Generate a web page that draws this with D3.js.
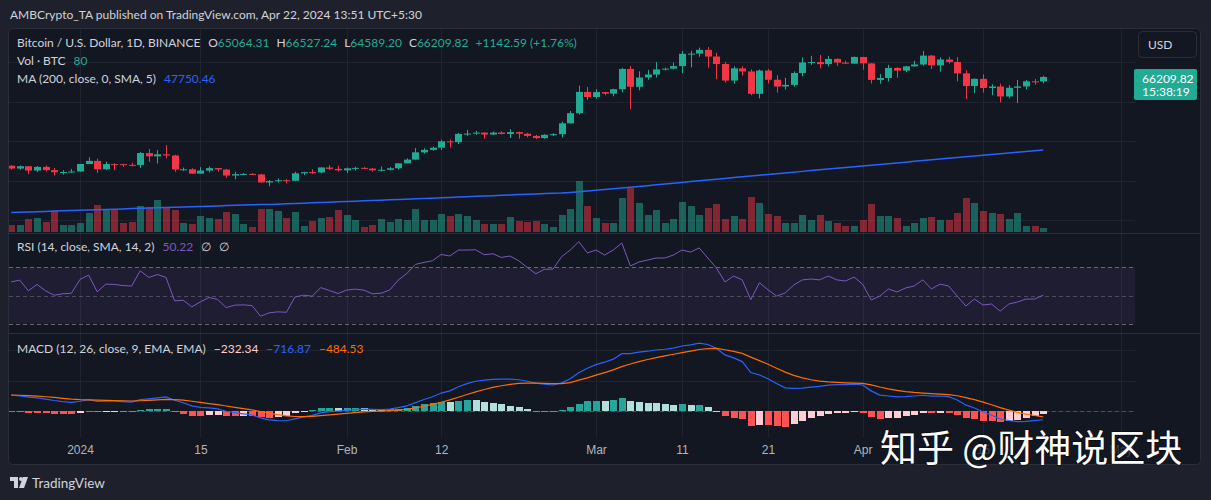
<!DOCTYPE html>
<html lang="en">
<head>
    <meta charset="UTF-8">
    <title>BTCUSD 1D</title>
    <script src="https://cdnjs.cloudflare.com/ajax/libs/d3/7.8.5/d3.min.js"></script>
    <style>
        body {
            margin: 0;
            background: #1e222d;
        }

        svg {
            display: block;
            font-family: Lato, Roboto, sans-serif;
        }

        .lbl {
            font-size: 12px;
            fill: #d1d4dc;
        }

        .axis text {
            font-size: 12px;
            fill: #b2b5be;
        }
    </style>
</head>
<body>

<svg id="chart" width="1211" height="500"></svg>

<script>
    // daily candles, Dec 24 2023 .. Apr 22 2024
    const days = d3.utcDay.range(new Date(Date.UTC(2023, 11, 24)), new Date(Date.UTC(2024, 3, 23)));

    const opens = [
        43728, 43016, 43614, 42520, 43442, 42627, 42099, 42156,
        42283, 44180, 44966, 42845, 44151, 44145, 43968, 43930, 46951, 46110, 46633, 46340, 42782, 42847, 41733, 42512,
        43139, 42777, 41262, 41618, 41665, 41545, 39507, 39845, 40077, 39934, 41816, 42120, 42036, 43302, 42941,
        42580, 43082, 43200, 43011, 42582, 42708, 43098, 44349, 45288, 47132, 47751, 48300, 49917, 49700, 51795,
        51880, 52124, 51642, 52137, 51774, 52258, 51849, 51289, 50744, 51568, 51728, 54476, 57038, 62432,
        61130, 62387, 61987, 63114, 68245, 63724, 66075, 66824, 68124, 68314, 68956, 72078, 72123, 73073, 71388,
        69499, 65300, 68393, 67609, 61938, 67840, 65501, 63797, 64209, 67210, 69880, 69988, 69469, 70780, 69850, 69582,
        71280, 69650, 65463, 65963, 68488, 67820, 68896, 69360, 71620, 69146, 70631, 70007, 67116, 63924, 65738,
        63419, 63793, 61277, 63470, 63818, 65100, 65064
    ];
    const highs = [
        43945, 43800, 43655, 43684, 43800, 43125, 42612, 42900,
        44185, 45900, 45500, 44730, 44350, 44228, 44500, 47250, 47970, 47700, 48970, 46500, 43260, 43080, 43400, 43578,
        43198, 42930, 42195, 41870, 41873, 41690, 40129, 40555, 40300, 42209, 42200, 42842, 43305, 43882, 43745,
        43285, 43488, 43380, 43120, 43530, 43400, 44396, 45614, 48200, 48170, 48592, 50334, 50368, 52043, 52816,
        52575, 52191, 52400, 52488, 52985, 52366, 52065, 51548, 51695, 51958, 54910, 57588, 64000, 63676,
        63114, 62433, 63231, 68499, 69000, 67637, 67984, 69990, 68541, 69887, 72800, 72828, 73650, 73777, 72357,
        70043, 68904, 68957, 68124, 68100, 68240, 66650, 65999, 67628, 71150, 71561, 71770, 71552, 70916, 70321, 71366,
        71288, 69674, 66903, 69291, 68725, 69000, 70326, 72797, 71758, 71172, 71305, 71227, 67931, 65840, 66867,
        64365, 64499, 64125, 65450, 65419, 65700, 66527
    ];
    const lows = [
        42760, 42720, 41650, 42100, 42300, 41300, 41520, 41965,
        42180, 44150, 41900, 42630, 42620, 43420, 43565, 43175, 44700, 44300, 45600, 42200, 42440, 41720, 41718, 42050,
        42200, 40683, 40280, 41500, 41446, 39430, 38555, 39485, 39250, 39825, 41395, 41620, 41800, 42684, 42276,
        41884, 42546, 42880, 42222, 42259, 42574, 42788, 44331, 45242, 46800, 47558, 47710, 48300, 49225, 51315,
        51565, 50625, 51535, 51677, 50760, 50625, 50914, 50500, 50585, 51280, 50901, 54450, 56691, 60364,
        60777, 61561, 61321, 62300, 58000, 62849, 65500, 66082, 67861, 68094, 67194, 68620, 71334, 68555, 65630,
        64780, 64533, 66566, 61555, 60775, 64530, 62260, 63000, 63772, 66385, 69280, 68379, 68903, 69009, 69540, 69562,
        68062, 64550, 64493, 65064, 66011, 67446, 68824, 69043, 68210, 67518, 69567, 65086, 60660, 62134, 62274,
        61600, 59768, 60833, 59600, 63090, 64277, 64589
    ];
    const closes = [
        43016, 43614, 42520, 43442, 42627, 42099, 42156, 42283,
        44180, 44966, 42845, 44151, 44145, 43968, 43930, 46951, 46110, 46633, 46340, 42782, 42847, 41733, 42512, 43139,
        42777, 41262, 41618, 41665, 41545, 39507, 39845, 40077, 39934, 41816, 42120, 42036, 43302, 42941, 42580,
        43082, 43200, 43011, 42582, 42708, 43098, 44349, 45288, 47132, 47751, 48300, 49917, 49700, 51795, 51880,
        52124, 51642, 52137, 51774, 52258, 51849, 51289, 50744, 51568, 51728, 54476, 57038, 62432, 61130,
        62387, 61987, 63114, 68245, 63724, 66075, 66824, 68124, 68314, 68956, 72078, 72123, 73073, 71388, 69499,
        65300, 68393, 67609, 61938, 67840, 65501, 63797, 64209, 67210, 69880, 69988, 69469, 70780, 69850, 69582, 71280,
        69650, 65463, 65963, 68488, 67820, 68896, 69360, 71620, 69146, 70631, 70007, 67116, 63924, 65738, 63419,
        63793, 61277, 63470, 63818, 65100, 65067, 66210
    ];
    const volumes = [
        137, 125, 243, 256, 187, 387, 137, 137,
        163, 355, 511, 424, 406, 168, 181, 492, 468, 593, 443, 406, 163, 144, 299, 256,
        237, 380, 337, 155, 94, 424, 424, 387, 262, 374, 112, 206, 267, 281, 417,
        312, 230, 94, 125, 237, 181, 237, 219, 424, 219, 219, 331, 299, 342, 299,
        230, 155, 144, 144, 281, 206, 187, 206, 155, 94, 324, 436, 959, 481,
        262, 168, 168, 630, 828, 542, 324, 417, 168, 249, 561, 486, 324, 449, 518,
        249, 294, 249, 655, 542, 342, 294, 174, 174, 324, 219, 312, 200, 168, 112, 112,
        219, 518, 299, 299, 262, 112, 168, 262, 286, 230, 219, 355, 636, 548, 387,
        361, 331, 237, 355, 112, 112, 80
    ];
    const ma200 = [
        31900, 31970, 32040, 32110, 32180, 32250, 32320, 32390,
        32460, 32535, 32605, 32675, 32745, 32815, 32885, 32960, 33035, 33110, 33185, 33250, 33315, 33380, 33445, 33510,
        33575, 33640, 33705, 33770, 33835, 33895, 33955, 34015, 34095, 34180, 34265, 34350, 34435, 34520, 34605,
        34690, 34775, 34860, 34940, 35020, 35100, 35185, 35270, 35355, 35445, 35535, 35625, 35715, 35805, 35895,
        35985, 36075, 36165, 36255, 36345, 36435, 36520, 36605, 36685, 36765, 36830, 36980, 37150, 37330,
        37520, 37710, 37900, 38100, 38300, 38500, 38700, 38900, 39105, 39310, 39515, 39720, 39925, 40130, 40335,
        40535, 40735, 40935, 41130, 41330, 41530, 41725, 41920, 42115, 42310, 42505, 42700, 42895, 43090, 43285, 43480,
        43675, 43870, 44065, 44260, 44455, 44650, 44845, 45040, 45235, 45430, 45625, 45820, 46010, 46200, 46390,
        46580, 46775, 46970, 47165, 47360, 47555, 47750
    ];
    const rsi = [
        59.6, 60.8, 53.3, 57.8, 53.3, 50.2, 51.2, 51.6,
        61.3, 64.4, 52.6, 58.0, 57.8, 57.0, 56.6, 67.4, 62.7, 64.8, 62.7, 46.2, 46.7, 42.0, 45.5, 48.6,
        47.2, 41.5, 43.2, 43.4, 42.9, 35.4, 37.8, 38.5, 38.2, 49.0, 50.2, 49.5, 55.6, 53.5, 51.4,
        53.8, 54.5, 53.8, 51.2, 51.6, 53.8, 60.8, 65.5, 71.9, 73.3, 74.5, 78.9, 77.8, 82.0, 82.0,
        82.2, 78.7, 79.4, 76.8, 77.8, 74.5, 69.8, 65.3, 68.4, 68.6, 77.3, 82.0, 87.9, 80.0,
        82.0, 78.5, 82.0, 87.0, 70.8, 73.6, 75.0, 76.4, 76.4, 78.5, 82.0, 80.6, 83.5, 76.4, 69.4,
        59.5, 63.7, 61.0, 47.0, 59.0, 54.0, 49.6, 51.8, 57.4, 61.0, 61.6, 61.0, 63.7, 61.0, 60.2, 63.0,
        58.0, 46.8, 49.6, 54.6, 52.5, 55.3, 56.7, 61.0, 54.6, 58.0, 56.7, 49.6, 42.6, 47.5, 43.3,
        44.0, 39.0, 44.0, 45.4, 47.5, 47.5, 50.22
    ];
    const macdLine = [
        1310, 1230, 1130, 1080, 980, 860, 770, 700,
        800, 920, 780, 800, 800, 770, 730, 930, 1000, 1080, 1150, 880, 680, 420, 300, 250,
        170, -20, -140, -230, -330, -570, -720, -790, -800, -640, -480, -360, -160, -60, 0,
        60, 120, 150, 130, 120, 150, 270, 420, 690, 940, 1170, 1470, 1650, 1990, 2240,
        2440, 2530, 2600, 2610, 2620, 2560, 2440, 2280, 2200, 2130, 2310, 2650, 3140, 3500,
        3800, 4000, 4250, 4700, 4700, 4820, 4900, 5000, 5060, 5150, 5330, 5420, 5560, 5450, 5150,
        4600, 4350, 4050, 3150, 2950, 2650, 2250, 1900, 1850, 1880, 1950, 2020, 2120, 2160, 2170, 2200,
        2130, 1650, 1300, 1230, 1150, 1180, 1230, 1290, 1220, 1230, 1180, 900, 500, 250, -60,
        -350, -650, -780, -870, -850, -790, -716.87
    ];
    const signalLine = [
        1310, 1290, 1260, 1220, 1170, 1110, 1040, 970,
        930, 920, 890, 870, 860, 840, 820, 840, 870, 910, 960, 940, 890, 800, 700, 610,
        520, 410, 300, 190, 90, -40, -180, -300, -400, -450, -460, -440, -380, -320, -250,
        -190, -130, -75, -35, -5, 25, 70, 140, 250, 390, 540, 720, 910, 1130, 1350,
        1570, 1760, 1930, 2070, 2180, 2260, 2290, 2290, 2270, 2240, 2250, 2330, 2530, 2720,
        2940, 3150, 3370, 3640, 3850, 4050, 4220, 4380, 4520, 4650, 4790, 4910, 5040, 5120, 5130,
        5020, 4890, 4720, 4420, 4130, 3830, 3510, 3190, 2920, 2710, 2560, 2450, 2380, 2340, 2310, 2290,
        2260, 2140, 1970, 1820, 1690, 1590, 1520, 1470, 1420, 1380, 1340, 1250, 1100, 930, 730,
        510, 280, 70, -110, -260, -370, -484.53
    ];
    const histogram = [
        0, -60, -130, -140, -190, -250, -270, -270,
        -130, 0, -110, -70, -60, -70, -90, 90, 130, 170, 190, -60, -210, -380, -400, -360,
        -350, -430, -440, -420, -420, -530, -540, -490, -400, -190, -20, 80, 220, 260, 250,
        250, 250, 225, 165, 125, 125, 200, 280, 440, 550, 630, 750, 740, 860, 890,
        870, 770, 670, 540, 440, 300, 150, -10, -70, -110, 60, 320, 610, 780,
        860, 850, 880, 1060, 850, 770, 680, 620, 540, 500, 540, 510, 520, 330, 20,
        -420, -540, -670, -1270, -1180, -1180, -1260, -1290, -1070, -830, -610, -430, -260, -180, -140, -90,
        -130, -490, -670, -590, -540, -410, -290, -180, -200, -150, -160, -350, -600, -680, -790,
        -860, -930, -850, -760, -590, -420, -232.34
    ];

    const tickDates = ["2024-01-01", "2024-01-15", "2024-02-01", "2024-02-12", "2024-03-01",
        "2024-03-11", "2024-03-21", "2024-04-01", "2024-04-15", "2024-05-01"].map(d => new Date(d));
    const tickLabels = ["2024", "15", "Feb", "12", "Mar", "11", "21", "Apr", "15", "May"];
    const priceTicks = [30000, 40000, 50000, 60000, 70000];
    const rsiTicks = [25, 50, 75];
    const macdTicks = [0, 2500, 5000];

    const green = "#22ab94", red = "#f23645", txt = "#d1d4dc";
    const plotL = 9, plotR = 1135, boxR = 1200;
    const mainTop = 29, mainBot = 233, rsiTop = 234, rsiBot = 333, macdTop = 334, macdBot = 437;

    const svg = d3.select("#chart");

    const x = d3.scaleUtc().domain([days[0], days[days.length - 1]]).range([11.2, 1043.2]);
    const yPrice = d3.scaleLinear().domain([30000, 70000]).range([220, 62]);
    const yVol = d3.scaleLinear().domain([0, 1000]).range([232, 178.5]);
    const yRsi = d3.scaleLinear().domain([25, 75]).range([331, 260]);
    const yMacd = d3.scaleLinear().domain([0, 5000]).range([411, 350]);

    const defs = svg.append("defs");
    function clip(id, x0, y0, w, h) {
        defs.append("clipPath").attr("id", id).append("rect")
            .attr("x", x0).attr("y", y0).attr("width", w).attr("height", h);
    }
    clip("cMain", plotL, mainTop, plotR - plotL, mainBot - mainTop);
    clip("cRsi", plotL, rsiTop, plotR - plotL, rsiBot - rsiTop);
    clip("cMacd", plotL, macdTop, plotR - plotL, macdBot - macdTop);
    clip("aMain", plotR, mainTop, boxR - plotR, mainBot - mainTop);
    clip("aRsi", plotR, rsiTop, boxR - plotR, rsiBot - rsiTop - 1);
    clip("aMacd", plotR, macdTop, boxR - plotR, macdBot - macdTop);

    // frame
    svg.append("rect").attr("width", 1211).attr("height", 500).attr("fill", "#1e212b");
    svg.append("rect").attr("x", 8.5).attr("y", 28.5).attr("width", boxR - 8).attr("height", 436)
        .attr("rx", 4).attr("fill", "#131722").attr("stroke", "#2a2e39");

    // grid
    const grid = svg.append("g").attr("stroke", "#1f2430").attr("stroke-width", 1);
    tickDates.forEach(d => {
        let gx = Math.round(x(d)) + 0.5;
        grid.append("line").attr("x1", gx).attr("x2", gx).attr("y1", mainTop).attr("y2", macdBot);
    });
    priceTicks.forEach(p => {
        grid.append("line").attr("x1", plotL).attr("x2", plotR)
            .attr("y1", Math.round(yPrice(p)) + 0.5).attr("y2", Math.round(yPrice(p)) + 0.5);
    });
    macdTicks.concat([-2500]).forEach(p => {
        grid.append("line").attr("x1", plotL).attr("x2", plotR).attr("clip-path", "url(#cMacd)")
            .attr("y1", Math.round(yMacd(p)) + 0.5).attr("y2", Math.round(yMacd(p)) + 0.5);
    });

    // separators
    [mainBot + 0.5, rsiBot + 0.5].forEach(y => {
        svg.append("line").attr("x1", 9).attr("x2", boxR).attr("y1", y).attr("y2", y)
            .attr("stroke", "#2a2e39");
    });

    const cx = i => Math.round(x(days[i]));
    const up = i => closes[i] >= opens[i];

    // main pane
    const main = svg.append("g").attr("clip-path", "url(#cMain)");

    main.selectAll("rect.vol").data(volumes).join("rect")
        .attr("class", "vol")
        .attr("x", (d, i) => cx(i) - 3)
        .attr("width", 7)
        .attr("y", d => yVol(d))
        .attr("height", d => yVol(0) - yVol(d))
        .attr("fill", (d, i) => up(i) ? green : red)
        .attr("fill-opacity", 0.5)
        .attr("shape-rendering", "crispEdges");

    main.append("path")
        .attr("d", d3.line().x((d, i) => x(days[i])).y(d => yPrice(d))(ma200))
        .attr("fill", "none").attr("stroke", "#2962ff").attr("stroke-width", 1.5);

    const candle = main.selectAll("g.candle").data(days).join("g").attr("class", "candle");
    candle.append("line")
        .attr("x1", (d, i) => cx(i) + 0.5).attr("x2", (d, i) => cx(i) + 0.5)
        .attr("y1", (d, i) => yPrice(highs[i])).attr("y2", (d, i) => yPrice(lows[i]))
        .attr("stroke", (d, i) => up(i) ? green : red);
    candle.append("rect")
        .attr("x", (d, i) => cx(i) - 3)
        .attr("width", 7)
        .attr("y", (d, i) => yPrice(Math.max(opens[i], closes[i])))
        .attr("height", (d, i) => Math.max(1, Math.abs(yPrice(opens[i]) - yPrice(closes[i]))))
        .attr("fill", (d, i) => up(i) ? green : red);

    // RSI pane
    const rsiG = svg.append("g").attr("clip-path", "url(#cRsi)");
    rsiG.append("rect").attr("x", plotL).attr("width", plotR - plotL)
        .attr("y", yRsi(70)).attr("height", yRsi(30) - yRsi(70))
        .attr("fill", "#7e57c2").attr("fill-opacity", 0.1);
    [70, 50, 30].forEach(l => {
        rsiG.append("line").attr("x1", plotL).attr("x2", plotR)
            .attr("y1", Math.round(yRsi(l)) + 0.5).attr("y2", Math.round(yRsi(l)) + 0.5)
            .attr("stroke", "#787b86").attr("stroke-opacity", l === 50 ? 0.5 : 0.8)
            .attr("stroke-dasharray", "4,3");
    });
    rsiG.append("path")
        .attr("d", d3.line().x((d, i) => x(days[i])).y(d => yRsi(d))(rsi))
        .attr("fill", "none").attr("stroke", "#7e57c2").attr("stroke-width", 1);

    // MACD pane
    const macdG = svg.append("g").attr("clip-path", "url(#cMacd)");
    macdG.append("line").attr("x1", plotL).attr("x2", plotR)
        .attr("y1", Math.round(yMacd(0)) + 0.5).attr("y2", Math.round(yMacd(0)) + 0.5)
        .attr("stroke", "#787b86").attr("stroke-opacity", 0.5).attr("stroke-dasharray", "4,3");

    function histColor(i) {
        let v = histogram[i], prev = i > 0 ? histogram[i - 1] : v;
        if (v >= 0) return v >= prev ? "#26a69a" : "#b2dfdb";
        return v > prev ? "#ffcdd2" : "#ff5252";
    }

    macdG.selectAll("rect.hist").data(histogram).join("rect")
        .attr("class", "hist")
        .attr("x", (d, i) => cx(i) - 3)
        .attr("width", 7)
        .attr("y", d => Math.min(yMacd(d), yMacd(0)))
        .attr("height", d => Math.max(1, Math.abs(yMacd(d) - yMacd(0))))
        .attr("fill", (d, i) => histColor(i))
        .attr("shape-rendering", "crispEdges");

    macdG.append("path")
        .attr("d", d3.line().x((d, i) => x(days[i])).y(d => yMacd(d))(macdLine))
        .attr("fill", "none").attr("stroke", "#2962ff").attr("stroke-width", 1.2);
    macdG.append("path")
        .attr("d", d3.line().x((d, i) => x(days[i])).y(d => yMacd(d))(signalLine))
        .attr("fill", "none").attr("stroke", "#ff6d00").attr("stroke-width", 1.2);

    // axes
    function rightAxis(scale, ticks, clipId) {
        let g = svg.append("g").attr("class", "axis")
            .attr("transform", `translate(${plotR},0)`)
            .attr("clip-path", `url(#${clipId})`)
            .call(d3.axisRight(scale).tickValues(ticks).tickFormat(d3.format(".2f")).tickSize(0).tickPadding(7));
        g.select(".domain").remove();
    }
    rightAxis(yPrice, priceTicks, "aMain");
    rightAxis(yRsi, rsiTicks, "aRsi");
    rightAxis(yMacd, macdTicks, "aMacd");

    let timeAxis = svg.append("g").attr("class", "axis")
        .attr("transform", `translate(0,${macdBot + 8})`)
        .call(d3.axisBottom(x).tickValues(tickDates).tickFormat((d, i) => tickLabels[i]).tickSize(0).tickPadding(0));
    timeAxis.select(".domain").remove();
    // the last two labels sit under the watermark and barely show through
    timeAxis.selectAll(".tick").filter((d, i) => i >= 8).attr("opacity", 0.25);

    // legends
    function legend(y, parts) {
        let t = svg.append("text").attr("class", "lbl").attr("x", 17).attr("y", y);
        parts.forEach(p => t.append("tspan").attr("fill", p[1]).attr("dx", p[2] || 0).text(p[0]));
    }
    legend(47, [["Bitcoin / U.S. Dollar, 1D, BINANCE", txt], ["O", txt, 8], ["65064.31", green],
        ["H", txt, 7], ["66527.24", green], ["L", txt, 7], ["64589.20", green],
        ["C", txt, 7], ["66209.82", green], ["+1142.59 (+1.76%)", green, 7]]);
    legend(65, [["Vol · BTC", txt], ["80", green, 8]]);
    legend(83, [["MA (200, close, 0, SMA, 5)", txt], ["47750.46", "#2962ff", 8]]);
    legend(251, [["RSI (14, close, SMA, 14, 2)", txt], ["50.22", "#7e57c2", 8], ["∅", txt, 8], ["∅", txt, 8]]);
    legend(353, [["MACD (12, 26, close, 9, EMA, EMA)", txt], ["−232.34", "#ffcdd2", 8],
        ["−716.87", "#2962ff", 8], ["−484.53", "#ff6d00", 8]]);

    // currency button and last price badge
    svg.append("rect").attr("x", 1138.5).attr("y", 31.5).attr("width", 58).attr("height", 26)
        .attr("rx", 4).attr("fill", "#131722").attr("stroke", "#2a2e39");
    svg.append("text").attr("class", "lbl").attr("x", 1148).attr("y", 49).text("USD");

    svg.append("rect").attr("x", 1134).attr("y", 69).attr("width", 63).attr("height", 31)
        .attr("rx", 2).attr("fill", green);
    svg.append("text").attr("class", "lbl").attr("x", 1142).attr("y", 82.5)
        .style("fill", "#fff").text("66209.82");
    svg.append("text").attr("class", "lbl").attr("x", 1142).attr("y", 96)
        .style("fill", "#fff").text("15:38:19");

    // header and footer
    svg.append("text").attr("class", "lbl").attr("x", 10).attr("y", 19)
        .text("AMBCrypto_TA published on TradingView.com, Apr 22, 2024 13:51 UTC+5:30");

    const logo = svg.append("g").attr("fill", txt);
    logo.append("rect").attr("x", 10).attr("y", 477).attr("width", 8).attr("height", 4);
    logo.append("rect").attr("x", 14).attr("y", 477).attr("width", 4).attr("height", 11);
    logo.append("circle").attr("cx", 21).attr("cy", 479).attr("r", 2);
    logo.append("polygon").attr("points", "23,477 28,477 24,488 19,488");
    svg.append("text").attr("x", 32).attr("y", 488).attr("font-size", 13.5).attr("fill", txt)
        .text("TradingView");

    // watermark
    svg.append("text").attr("x", 880).attr("y", 462)
        .attr("font-family", "'Noto Sans CJK SC', sans-serif").attr("font-size", 37)
        .attr("fill", "#fff").attr("stroke", "#000").attr("stroke-opacity", 0.35).attr("stroke-width", 2)
        .attr("paint-order", "stroke")
        .text("知乎 @财神说区块");
</script>

</body>
</html>
